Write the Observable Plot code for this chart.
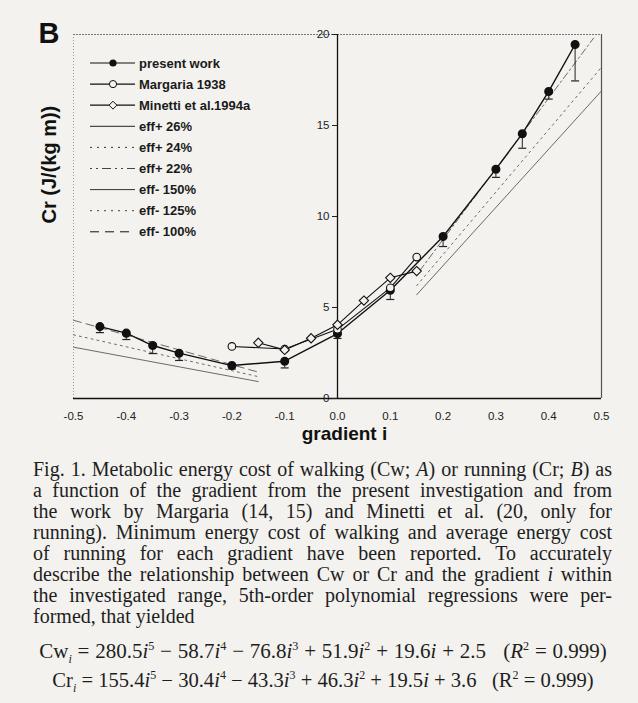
<!DOCTYPE html>
<html><head><meta charset="utf-8">
<script src="https://cdn.jsdelivr.net/npm/d3@7"></script>
<script src="https://cdn.jsdelivr.net/npm/@observablehq/plot@0.6"></script>
<style>
body{margin:0;background:#f3f2ef;}
#wrap{position:relative;width:638px;height:703px;overflow:hidden;background:#f3f2ef;}
#chart svg{display:block;}
.cap{position:absolute;left:33px;width:579px;top:459px;font-family:"Liberation Serif",serif;font-size:20px;line-height:21px;color:#1e1e1e;}
.cap div{text-align:justify;text-align-last:justify;white-space:nowrap;}
.cap div.last{text-align:left;text-align-last:left;}
.eq{position:absolute;left:0;width:646px;text-align:center;font-family:"Liberation Serif",serif;font-size:21px;color:#1e1e1e;white-space:nowrap;word-spacing:0.5px;}
.eq sup,.eq sub{font-size:0.58em;line-height:0;}
</style>
</head><body>
<div id="wrap">
<div id="chart"></div>
<div class="cap">
<div>Fig. 1. Metabolic energy cost of walking (Cw; <i>A</i>) or running (Cr; <i>B</i>) as</div>
<div>a function of the gradient from the present investigation and from</div>
<div>the work by Margaria (14, 15) and Minetti et al. (20, only for</div>
<div>running). Minimum energy cost of walking and average energy cost</div>
<div>of running for each gradient have been reported. To accurately</div>
<div>describe the relationship between Cw or Cr and the gradient <i>i</i> within</div>
<div>the investigated range, 5th-order polynomial regressions were per-</div>
<div class="last">formed, that yielded</div>
</div>
<div class="eq" style="top:639px">Cw<sub><i>i</i></sub> = 280.5<i>i</i><sup>5</sup> − 58.7<i>i</i><sup>4</sup> − 76.8<i>i</i><sup>3</sup> + 51.9<i>i</i><sup>2</sup> + 19.6<i>i</i> + 2.5 &nbsp;&nbsp;(<i>R</i><sup>2</sup> = 0.999)</div>
<div class="eq" style="top:669px;font-size:20.6px;word-spacing:0;">Cr<sub><i>i</i></sub> = 155.4<i>i</i><sup>5</sup> − 30.4<i>i</i><sup>4</sup> − 43.3<i>i</i><sup>3</sup> + 46.3<i>i</i><sup>2</sup> + 19.5<i>i</i> + 3.6 &nbsp;&nbsp;(R<sup>2</sup> = 0.999)</div>
</div>
<script>
// ---- data ----
const gradPresent = [-0.45, -0.4, -0.35, -0.3, -0.2, -0.1, 0, 0.1, 0.2, 0.3, 0.35, 0.4, 0.45];
const crPresent = [3.95, 3.59, 2.91, 2.49, 1.81, 2.05, 3.57, 5.95, 8.9, 12.6, 14.55, 16.87, 19.45];
const crPresentLow = [3.62, 3.24, 2.47, 2.09, 1.62, 1.68, 3.3, 5.44, 8.35, 12.15, 13.75, 16.45, 17.45];
const gradMargaria = [-0.2, -0.1, 0, 0.1, 0.15];
const crMargaria = [2.86, 2.72, 3.8, 6.08, 7.77];
const gradMinetti = [-0.15, -0.1, -0.05, 0, 0.05, 0.1, 0.15];
const crMinetti = [3.06, 2.67, 3.31, 4.05, 5.38, 6.63, 7.0];
const effMinusX = [-0.5, -0.15];
const effMinus150 = [2.82, 0.93];
const effMinus125 = [3.5, 1.2];
const effMinus100 = [4.3, 1.45];
const effPlusX = [0.15, 0.5];
const effPlus26 = [5.7, 16.9];
const effPlus24 = [6.2, 18.2];
const effPlus22X = [0.15, 0.485];
const effPlus22 = [6.8, 19.8];
const xTicks = [-0.5, -0.4, -0.3, -0.2, -0.1, 0, 0.1, 0.2, 0.3, 0.4, 0.5];
const yTicks = [0, 5, 10, 15, 20];
const xDomain = [-0.5, 0.5];
const yDomain = [0, 20];
const legendLabels = ["present work", "Margaria 1938", "Minetti et al.1994a", "eff+ 26%", "eff+ 24%", "eff+ 22%", "eff- 150%", "eff- 125%", "eff- 100%"];
const panelLabel = "B";
const xLabel = "gradient i";
const yLabel = "Cr (J/(kg m))";

// ---- build ----
const W = 638, H = 455, mL = 73, mR = 37, mT = 34, mB = 57;
const bg = "#f3f2ef";
const rows = (xs, ys) => xs.map((x, k) => ({x, y: ys[k]}));
const present = gradPresent.map((x, k) => ({x, y: crPresent[k], low: crPresentLow[k]}));
const capSymbol = {draw(ctx, size) { const r = Math.sqrt(size / Math.PI); ctx.moveTo(-r, 0); ctx.lineTo(r, 0); }};
const xs = d3.scaleLinear(xDomain, [mL, W - mR]);
const effStyles = [
  {d: rows(effPlusX, effPlus26), dash: null},
  {d: rows(effPlusX, effPlus24), dash: "2,4"},
  {d: rows(effPlus22X, effPlus22), dash: "2,3,7,3"},
  {d: rows(effMinusX, effMinus150), dash: null},
  {d: rows(effMinusX, effMinus125), dash: "2,4"},
  {d: rows(effMinusX, effMinus100), dash: "8,5"}
];

const chart = Plot.plot({
  width: W, height: H, marginLeft: mL, marginRight: mR, marginTop: mT, marginBottom: mB,
  x: {domain: xDomain},
  y: {domain: yDomain},
  style: {fontFamily: "Liberation Sans, Arial, sans-serif", fontSize: "11.5px", background: "transparent", color: "#222"},
  marks: [
    Plot.ruleX([xDomain[0]], {stroke: "#999", strokeDasharray: "1,2", strokeWidth: 1}),
    Plot.ruleX([xDomain[1]], {stroke: "#555", strokeWidth: 1.2}),
    Plot.ruleY([yDomain[1]], {stroke: "#777", strokeDasharray: "2,1", strokeWidth: 1}),
    ...effStyles.map(s => Plot.line(s.d, {x: "x", y: "y", stroke: "#6a6a6a", strokeWidth: 1, strokeDasharray: s.dash})),
    Plot.ruleY([0], {stroke: "#111", strokeWidth: 1.3}),
    Plot.ruleX([0], {stroke: "#111", strokeWidth: 1.3}),
    Plot.axisX({ticks: xTicks, tickFormat: d => d.toFixed(1), tickSize: 0, tickPadding: 13, label: null}),
    Plot.axisY({anchor: "left", ticks: yTicks, tickSize: 5, tickPadding: 3, label: null, dx: xs(0) - mL}),
    Plot.line(rows(gradMargaria, crMargaria), {x: "x", y: "y", stroke: "#111", strokeWidth: 1.1}),
    Plot.line(rows(gradMinetti, crMinetti), {x: "x", y: "y", stroke: "#111", strokeWidth: 1.1}),
    Plot.line(present, {x: "x", y: "y", stroke: "#111", strokeWidth: 1.4}),
    Plot.ruleX(present, {x: "x", y1: "y", y2: "low", stroke: "#222", strokeWidth: 1}),
    Plot.dot(present, {x: "x", y: "low", symbol: capSymbol, r: 4, stroke: "#222", strokeWidth: 1.2, fill: "none"}),
    Plot.dot(present, {x: "x", y: "y", r: 3.8, fill: "#111", stroke: "#111"}),
    Plot.dot(rows(gradMargaria, crMargaria), {x: "x", y: "y", r: 3.8, fill: bg, stroke: "#111", strokeWidth: 1.1}),
    Plot.dot(rows(gradMinetti, crMinetti), {x: "x", y: "y", symbol: "diamond2", r: 4.2, fill: bg, stroke: "#111", strokeWidth: 1.1}),
    Plot.text([xLabel], {text: d => d, frameAnchor: "bottom", dx: 7, dy: 41, fontWeight: "bold", fontSize: 19, fill: "#111"}),
    Plot.text([yLabel], {text: d => d, frameAnchor: "left", rotate: -90, dx: -24, dy: 7, fontWeight: "bold", fontSize: 20, fill: "#111"}),
    Plot.text([panelLabel], {text: d => d, frameAnchor: "top-left", textAnchor: "start", dx: -35, dy: -12, fontWeight: "bold", fontSize: 29, fill: "#111"})
  ]
});
document.getElementById("chart").appendChild(chart);

// legend (inside the plot frame, upper left)
const legendStyle = [
  {marker: "filled", dash: null, color: "#111"},
  {marker: "circle", dash: null, color: "#111"},
  {marker: "diamond", dash: null, color: "#111"},
  {marker: null, dash: null, color: "#222"},
  {marker: null, dash: "2,5", color: "#333"},
  {marker: null, dash: "2,4,2,4,9,4", color: "#444"},
  {marker: null, dash: null, color: "#333"},
  {marker: null, dash: "2,5", color: "#444"},
  {marker: null, dash: "9,6", color: "#111"}
];
const lg = d3.select(chart).append("g").attr("font-family", "Liberation Sans, Arial, sans-serif").attr("font-size", 13).attr("font-weight", "bold").attr("fill", "#1a1a1a").attr("text-anchor", "start");
legendLabels.forEach((name, k) => {
  const st = legendStyle[k];
  const y = 63 + k * 21.1;
  lg.append("line").attr("x1", 90).attr("x2", 135).attr("y1", y).attr("y2", y)
    .attr("stroke", st.color).attr("stroke-width", k < 3 ? 1.2 : 1).attr("stroke-dasharray", st.dash);
  if (st.marker === "filled") lg.append("circle").attr("cx", 113).attr("cy", y).attr("r", 3.6).attr("fill", "#111");
  if (st.marker === "circle") lg.append("circle").attr("cx", 113).attr("cy", y).attr("r", 3.6).attr("fill", bg).attr("stroke", "#111");
  if (st.marker === "diamond") lg.append("path").attr("d", d3.symbol(d3.symbolDiamond2, 40)()).attr("transform", `translate(113,${y})`).attr("fill", bg).attr("stroke", "#111");
  lg.append("text").attr("x", 139).attr("y", y).attr("dy", "0.35em").attr("text-anchor", "start").text(name);
});
</script>
</body></html>
